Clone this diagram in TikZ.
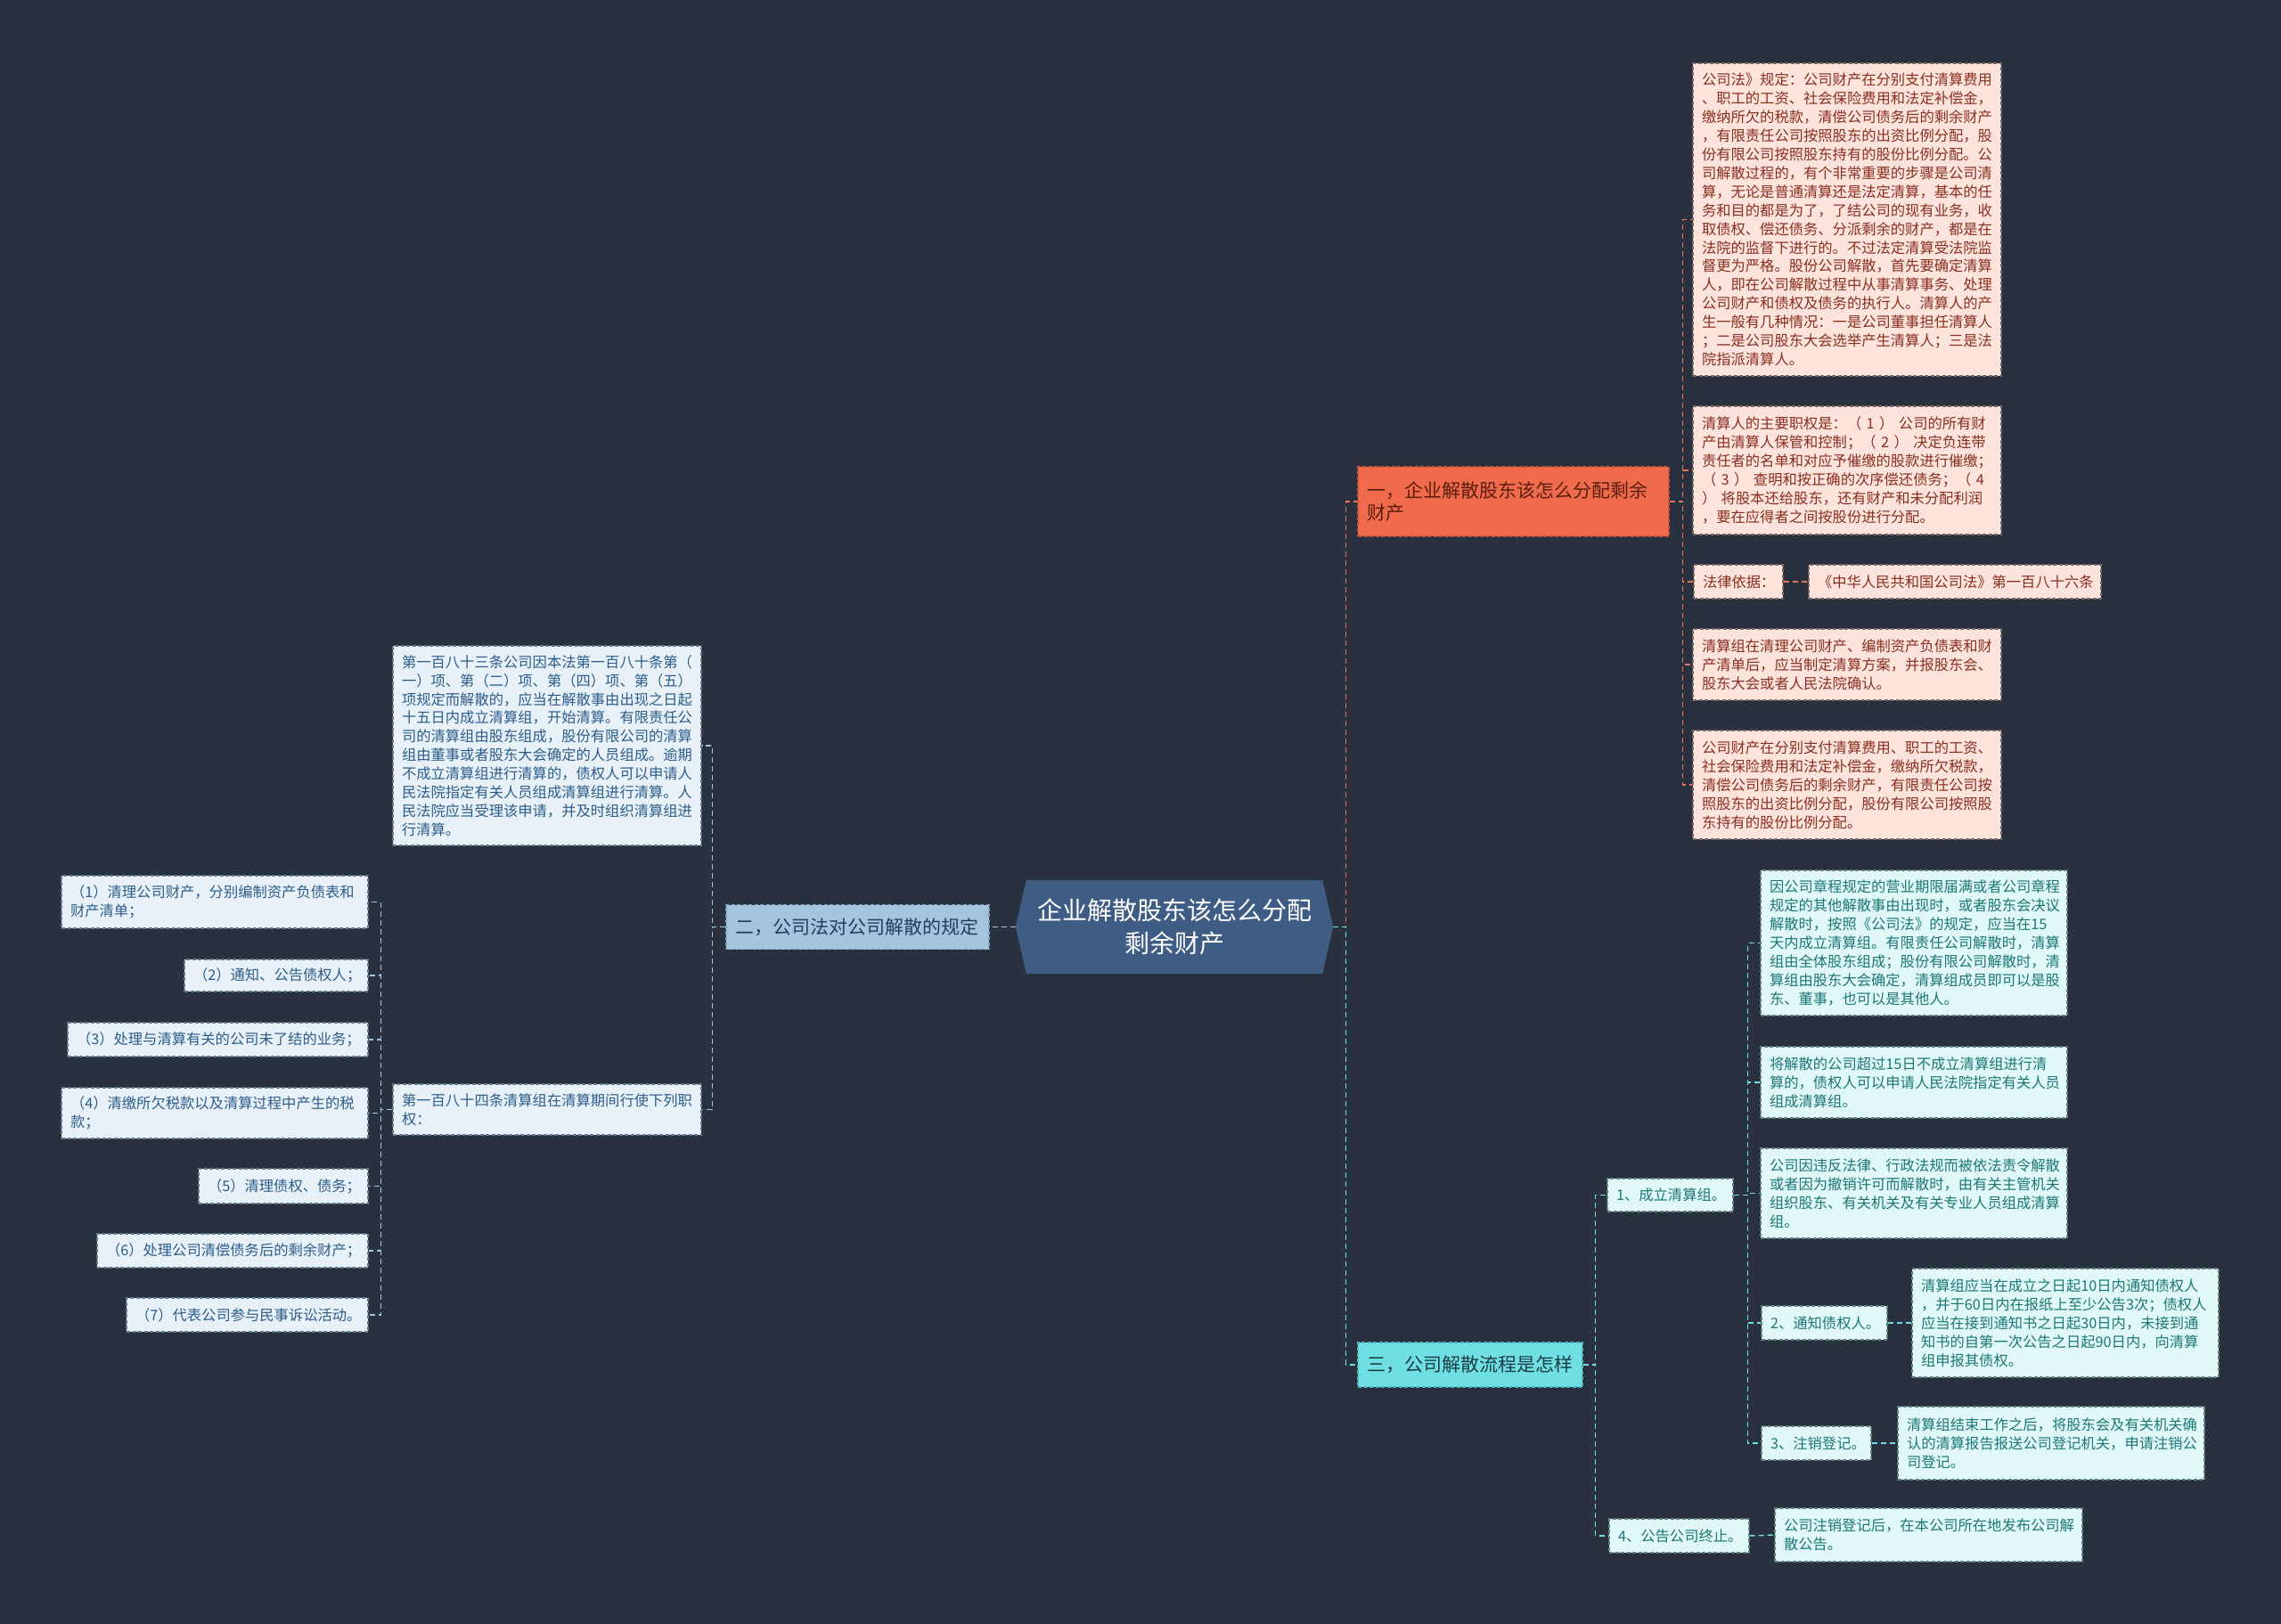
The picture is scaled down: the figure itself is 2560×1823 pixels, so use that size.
\documentclass[tikz,border=0pt]{standalone}
\usepackage{fontspec}
\newfontfamily\cjk{Noto Sans CJK SC}
\usetikzlibrary{calc}
\definecolor{bgc}{HTML}{29313F}
\definecolor{cfill}{HTML}{3F5C85}
\definecolor{ofill}{HTML}{EF6B4B}
\definecolor{odraw}{HTML}{C4543A}
\definecolor{otext}{HTML}{5A1E10}
\definecolor{oline}{HTML}{E4775B}
\definecolor{pfill}{HTML}{FCE3DC}
\definecolor{ptext}{HTML}{8A2F1F}
\definecolor{pdraw}{HTML}{7A6662}
\definecolor{bfill}{HTML}{A5C5DF}
\definecolor{bdraw}{HTML}{7F9FBA}
\definecolor{btext}{HTML}{1F3E60}
\definecolor{bline}{HTML}{A5C5DF}
\definecolor{lfill}{HTML}{E9F1F8}
\definecolor{ltext}{HTML}{2C5D8A}
\definecolor{ldraw}{HTML}{66798B}
\definecolor{cyfill}{HTML}{6FDFE4}
\definecolor{cydraw}{HTML}{4FB5BA}
\definecolor{cytext}{HTML}{1B3D45}
\definecolor{cyline}{HTML}{6FDFE4}
\definecolor{tfill}{HTML}{E1F8F8}
\definecolor{ttext}{HTML}{1C7775}
\definecolor{tdraw}{HTML}{5F7F80}
\tikzset{
  txt/.style={font=\cjk\fontsize{16.3}{20.9}\selectfont},
  box/.style={draw, dash pattern=on 4pt off 2.5pt, line width=1.2pt, inner xsep=10pt, inner ysep=3pt, align=left, txt},
  pbox/.style={box, fill=pfill, draw=pdraw, text=ptext},
  lbox/.style={box, fill=lfill, draw=ldraw, text=ltext},
  tbox/.style={box, fill=tfill, draw=tdraw, text=ttext},
  brbox/.style={draw, dash pattern=on 4pt off 2.5pt, line width=1.2pt, inner xsep=10pt, inner ysep=3pt, align=left, font=\cjk\fontsize{21}{25}\selectfont},
  con/.style={line width=1.8pt, dash pattern=on 6pt off 4pt},
}
\begin{document}
\begin{tikzpicture}[x=1pt,y=-1pt]
\useasboundingbox (0,0) rectangle (2560,1823);
\fill[bgc] (0,0) rectangle (2560,1823);

% center
\node[minimum width=356pt, minimum height=105pt, inner sep=0pt] (ctr) at (1318,1040.5) {};
\fill[cfill] ([xshift=12pt]ctr.north west) -- ([xshift=-12pt]ctr.north east) -- (ctr.east) -- ([xshift=-12pt]ctr.south east) -- ([xshift=12pt]ctr.south west) -- (ctr.west) -- cycle;
\node[text=white, align=center, inner sep=0pt, font=\cjk\fontsize{28}{37}\selectfont] (ctrt) at (ctr) {企业解散股东该怎么分配\\剩余财产};

% branches
\node[brbox, fill=ofill, draw=odraw, text=otext, text width=329pt, minimum height=78pt] (b1) at (1698.5,563) {一，企业解散股东该怎么分配剩余\\财产};
\node[brbox, fill=bfill, draw=bdraw, text=btext, text width=275pt, minimum height=50pt] (b2) at (962.5,1040.5) {二，公司法对公司解散的规定};
\node[brbox, fill=cyfill, draw=cydraw, text=cytext, text width=232pt, minimum height=50pt] (b3) at (1650,1532) {三，公司解散流程是怎样};

% branch 1 children
\node[pbox, text width=326pt, minimum height=351pt] (c1a) at (2073,246.5) {公司法》规定：公司财产在分别支付清算费用\\、职工的工资、社会保险费用和法定补偿金，\\缴纳所欠的税款，清偿公司债务后的剩余财产\\，有限责任公司按照股东的出资比例分配，股\\份有限公司按照股东持有的股份比例分配。公\\司解散过程的，有个非常重要的步骤是公司清\\算，无论是普通清算还是法定清算，基本的任\\务和目的都是为了，了结公司的现有业务，收\\取债权、偿还债务、分派剩余的财产，都是在\\法院的监督下进行的。不过法定清算受法院监\\督更为严格。股份公司解散，首先要确定清算\\人，即在公司解散过程中从事清算事务、处理\\公司财产和债权及债务的执行人。清算人的产\\生一般有几种情况：一是公司董事担任清算人\\；二是公司股东大会选举产生清算人；三是法\\院指派清算人。};
\node[pbox, text width=326pt, minimum height=144pt] (c1b) at (2073,528) {清算人的主要职权是：（ 1 ） 公司的所有财\\产由清算人保管和控制；（ 2 ） 决定负连带\\责任者的名单和对应予催缴的股款进行催缴；\\（ 3 ） 查明和按正确的次序偿还债务；（ 4\\） 将股本还给股东，还有财产和未分配利润\\，要在应得者之间按股份进行分配。};
\node[pbox, text width=80pt, minimum height=38pt] (c1c) at (1951,653) {法律依据：};
\node[pbox, text width=308pt, minimum height=38pt] (c1c2) at (2194,653) {《中华人民共和国公司法》第一百八十六条};
\node[pbox, text width=326pt, minimum height=80pt] (c1d) at (2073,746) {清算组在清理公司财产、编制资产负债表和财\\产清单后，应当制定清算方案，并报股东会、\\股东大会或者人民法院确认。};
\node[pbox, text width=326pt, minimum height=122pt] (c1e) at (2073,881) {公司财产在分别支付清算费用、职工的工资、\\社会保险费用和法定补偿金，缴纳所欠税款，\\清偿公司债务后的剩余财产，有限责任公司按\\照股东的出资比例分配，股份有限公司按照股\\东持有的股份比例分配。};

% branch 2 children
\node[lbox, text width=326pt, minimum height=224pt] (l1) at (614,837) {第一百八十三条公司因本法第一百八十条第（\\一）项、第（二）项、第（四）项、第（五）\\项规定而解散的，应当在解散事由出现之日起\\十五日内成立清算组，开始清算。有限责任公\\司的清算组由股东组成，股份有限公司的清算\\组由董事或者股东大会确定的人员组成。逾期\\不成立清算组进行清算的，债权人可以申请人\\民法院指定有关人员组成清算组进行清算。人\\民法院应当受理该申请，并及时组织清算组进\\行清算。};
\node[lbox, text width=326pt, minimum height=57pt] (l2) at (614,1245.5) {第一百八十四条清算组在清算期间行使下列职\\权：};
\node[lbox, text width=324pt, minimum height=59pt] (i1) at (241,1012.5) {（1）清理公司财产，分别编制资产负债表和\\财产清单；};
\node[lbox, text width=186pt, minimum height=36pt] (i2) at (310,1095) {（2）通知、公告债权人；};
\node[lbox, text width=317pt, minimum height=38pt] (i3) at (244.5,1167) {（3）处理与清算有关的公司未了结的业务；};
\node[lbox, text width=324pt, minimum height=57pt] (i4) at (241,1249.5) {（4）清缴所欠税款以及清算过程中产生的税\\款；};
\node[lbox, text width=170pt, minimum height=39pt] (i5) at (318,1331.5) {（5）清理债权、债务；};
\node[lbox, text width=284pt, minimum height=38pt] (i6) at (261,1404) {（6）处理公司清偿债务后的剩余财产；};
\node[lbox, text width=251pt, minimum height=38pt] (i7) at (277.5,1476) {（7）代表公司参与民事诉讼活动。};

% branch 3 children
\node[tbox, text width=121pt, minimum height=37pt] (s1) at (1874.5,1341.5) {1、成立清算组。};
\node[tbox, text width=121pt, minimum height=38pt] (s2) at (2047.5,1485) {2、通知债权人。};
\node[tbox, text width=103pt, minimum height=38pt] (s3) at (2038.5,1620) {3、注销登记。};
\node[tbox, text width=137pt, minimum height=38pt] (s4) at (1884.5,1724) {4、公告公司终止。};
\node[tbox, text width=324pt, minimum height=163pt] (t1) at (2148,1058.5) {因公司章程规定的营业期限届满或者公司章程\\规定的其他解散事由出现时，或者股东会决议\\解散时，按照《公司法》的规定，应当在15\\天内成立清算组。有限责任公司解散时，清算\\组由全体股东组成；股份有限公司解散时，清\\算组由股东大会确定，清算组成员即可以是股\\东、董事，也可以是其他人。};
\node[tbox, text width=324pt, minimum height=80pt] (t2) at (2148,1215) {将解散的公司超过15日不成立清算组进行清\\算的，债权人可以申请人民法院指定有关人员\\组成清算组。};
\node[tbox, text width=324pt, minimum height=101pt] (t3) at (2148,1339.5) {公司因违反法律、行政法规而被依法责令解散\\或者因为撤销许可而解散时，由有关主管机关\\组织股东、有关机关及有关专业人员组成清算\\组。};
\node[tbox, text width=324pt, minimum height=122pt] (u2) at (2318,1485) {清算组应当在成立之日起10日内通知债权人\\，并于60日内在报纸上至少公告3次；债权人\\应当在接到通知书之日起30日内，未接到通\\知书的自第一次公告之日起90日内，向清算\\组申报其债权。};
\node[tbox, text width=324pt, minimum height=82pt] (u3) at (2302,1620) {清算组结束工作之后，将股东会及有关机关确\\认的清算报告报送公司登记机关，申请注销公\\司登记。};
\node[tbox, text width=325pt, minimum height=60pt] (u4) at (2164.5,1723) {公司注销登记后，在本公司所在地发布公司解\\散公告。};

% connectors
\draw[con, oline] (ctr.east) -| ([xshift=-13pt]b1.west) -- (b1.west);
\draw[con, cyline] (ctr.east) -| ([xshift=-13pt]b3.west) -- (b3.west);
\draw[con, bline] (ctr.west) -- (b2.east);
\foreach \n in {c1a,c1b,c1c,c1d,c1e} \draw[con, oline, line width=1.5pt] (b1.east) -- ++(15,0) |- (\n.west);
\draw[con, oline, line width=1.5pt] (c1c.east) -- (c1c2.west);
\foreach \n in {l1,l2} \draw[con, bline, line width=1.5pt] (b2.west) -- ++(-15,0) |- (\n.east);
\foreach \n in {i1,i2,i3,i4,i5,i6,i7} \draw[con, bline, line width=1.5pt] (l2.west) -- ++(-13,0) |- (\n.east);
\foreach \n in {s1,s4} \draw[con, cyline, line width=1.5pt] (b3.east) -- ++(14,0) |- (\n.west);
\foreach \n in {t1,t2,t3,s2,s3} \draw[con, cyline, line width=1.5pt] (s1.east) -- ++(16,0) |- (\n.west);
\draw[con, cyline, line width=1.5pt] (s2.east) -- (u2.west);
\draw[con, cyline, line width=1.5pt] (s3.east) -- (u3.west);
\draw[con, cyline, line width=1.5pt] (s4.east) -- (u4.west);
\end{tikzpicture}
\end{document}
